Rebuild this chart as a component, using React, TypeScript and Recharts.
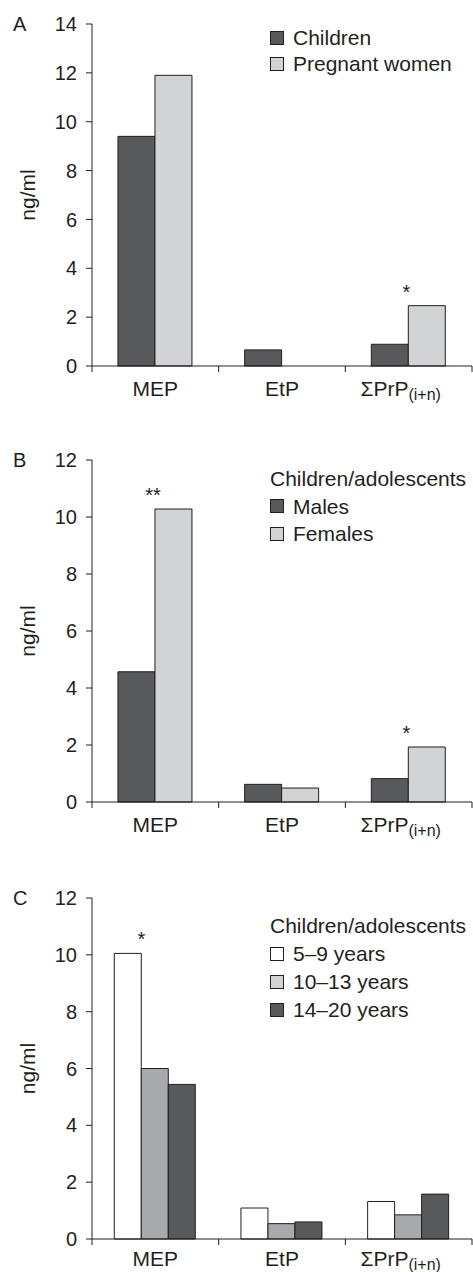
import { BarChart, Bar, XAxis, YAxis, Legend, LabelList } from 'recharts'

const categories = ['MEP', 'EtP', 'ΣPrP']
const categorySubs = ['', '', '(i+n)']
const yTicksA = [0, 2, 4, 6, 8, 10, 12, 14]
const yTicksBC = [0, 2, 4, 6, 8, 10, 12]

// panel A
const childrenA = [9.4, 0.66, 0.89]
const pregnantA = [11.9, null, 2.47]
const sigA = ['', '', '*']

// panel B
const malesB = [4.57, 0.62, 0.82]
const femalesB = [10.28, 0.49, 1.93]
const sigB = ['**', '', '*']

// panel C
const years5to9 = [10.05, 1.09, 1.32]
const years10to13 = [6.0, 0.54, 0.85]
const years14to20 = [5.44, 0.6, 1.58]
const sigC = ['*', '', '']

const FONT = '"Liberation Sans", Arial, Helvetica, sans-serif'
const INK = '#231f20'
const DARK = '#58595b'
const LIGHT = '#d1d3d4'
const MID = '#a7a9ac'

type Series = { key: string; name: string; fill: string; swatch: string; values: (number | null)[] }

// category label plus tick marks at the band edges (the original puts ticks between categories)
const makeCategoryTick = (baseline: number) => (props: any) => {
  const { x, y, payload } = props
  const idx = categories.indexOf(payload.value)
  const sub = categorySubs[idx]
  const half = payload.offset || 0
  return (
    <g>
      <line x1={x - half} x2={x - half} y1={y} y2={y + 6} stroke={INK} />
      {idx === categories.length - 1 && <line x1={x + half} x2={x + half} y1={y} y2={y + 6} stroke={INK} />}
      <text x={sub ? x - 8 : x} y={y + baseline} textAnchor="middle" fontSize={21} fontFamily={FONT} fill={INK}>
        {payload.value}
        {sub ? (
          <tspan dy={4} fontSize={16}>
            {sub}
          </tspan>
        ) : null}
      </text>
    </g>
  )
}

const sigLabel = (side: 'left' | 'right') => (props: any) => {
  const vb = props.viewBox || props
  const { x, y, width } = vb
  if (!props.value) return null
  const cx = side === 'left' ? x - 2 : x + width
  return (
    <text x={cx} y={y - 7} textAnchor="middle" fontSize={20} fontFamily={FONT} fill={INK}>
      {props.value}
    </text>
  )
}

interface PanelProps {
  letter: string
  top: number
  height: number
  marginTop: number
  marginBottom: number
  axisHeight: number
  labelBaseline: number
  yMax: number
  yTicks: number[]
  gap: string
  series: Series[]
  sig: string[]
  sigOn: number
  sigSide: 'left' | 'right'
  legendTitle?: string
  legendTop: number
  rowH: number
}

function Panel(p: PanelProps) {
  const data = categories.map((name, i) => {
    const row: any = { name, sig: p.sig[i] }
    p.series.forEach((s) => (row[s.key] = s.values[i]))
    return row
  })

  const yLabel = (props: any) => {
    const vb = props.viewBox
    const cy = vb.y + vb.height / 2
    return (
      <g fontFamily={FONT} fill={INK}>
        <text x={13} y={vb.y + 6.5} fontSize={20}>
          {p.letter}
        </text>
        <text
          x={27}
          y={cy}
          fontSize={21}
          textAnchor="middle"
          dominantBaseline="central"
          transform={`rotate(-90, 27, ${cy})`}
        >
          ng/ml
        </text>
      </g>
    )
  }

  const legendContent = () => (
    <div style={{ fontFamily: FONT, fontSize: 21, color: INK, lineHeight: `${p.rowH}px`, whiteSpace: 'nowrap' }}>
      {p.legendTitle && <div style={{ height: p.rowH }}>{p.legendTitle}</div>}
      {p.series.map((s) => (
        <div key={s.key} style={{ display: 'flex', alignItems: 'center', height: p.rowH }}>
          <span
            style={{
              display: 'inline-block',
              width: 12,
              height: 12,
              border: `1px solid ${INK}`,
              background: s.swatch,
              marginRight: 9,
            }}
          />
          <span>{s.name}</span>
        </div>
      ))}
    </div>
  )

  return (
    <div style={{ position: 'absolute', left: 0, top: p.top }}>
      <BarChart
        width={473}
        height={p.height}
        data={data}
        margin={{ top: p.marginTop, right: 1, bottom: p.marginBottom, left: 0 }}
        barCategoryGap={p.gap}
        barGap={0}
      >
        <XAxis
          dataKey="name"
          type="category"
          height={p.axisHeight}
          interval={0}
          tickLine={false}
          tickSize={0}
          tickMargin={0}
          axisLine={{ stroke: INK }}
          tick={makeCategoryTick(p.labelBaseline)}
        />
        <YAxis
          domain={[0, p.yMax]}
          ticks={p.yTicks}
          interval={0}
          width={92}
          tickSize={6}
          tickMargin={9}
          axisLine={{ stroke: INK }}
          tickLine={{ stroke: INK }}
          tick={{ fill: INK, fontSize: 20, fontFamily: FONT }}
          label={yLabel}
        />
        <Legend
          layout="vertical"
          align="center"
          verticalAlign="middle"
          content={legendContent}
          wrapperStyle={{ top: p.legendTop, left: 270, width: 'auto' }}
        />
        {p.series.map((s, i) => (
          <Bar
            key={s.key}
            dataKey={s.key}
            name={s.name}
            fill={s.fill}
            stroke={INK}
            strokeWidth={1}
            isAnimationActive={false}
          >
            {i === p.sigOn && <LabelList dataKey="sig" content={sigLabel(p.sigSide)} />}
          </Bar>
        ))}
      </BarChart>
    </div>
  )
}

export default function App() {
  return (
    <div
      style={{
        position: 'absolute',
        left: 0,
        top: 0,
        width: 473,
        height: 1272,
        overflow: 'hidden',
        background: '#fff',
      }}
    >
      <Panel
        letter="A"
        top={0}
        height={410}
        marginTop={24}
        marginBottom={4}
        axisHeight={40}
        labelBaseline={30}
        yMax={14}
        yTicks={yTicksA}
        gap="20.5%"
        series={[
          { key: 'children', name: 'Children', fill: DARK, swatch: DARK, values: childrenA },
          { key: 'pregnant', name: 'Pregnant women', fill: LIGHT, swatch: LIGHT, values: pregnantA },
        ]}
        sig={sigA}
        sigOn={1}
        sigSide="left"
        legendTop={25}
        rowH={26}
      />
      <Panel
        letter="B"
        top={400}
        height={444}
        marginTop={60}
        marginBottom={2}
        axisHeight={40}
        labelBaseline={30}
        yMax={12}
        yTicks={yTicksBC}
        gap="20.5%"
        series={[
          { key: 'males', name: 'Males', fill: DARK, swatch: DARK, values: malesB },
          { key: 'females', name: 'Females', fill: LIGHT, swatch: LIGHT, values: femalesB },
        ]}
        sig={sigB}
        sigOn={1}
        sigSide="left"
        legendTitle="Children/adolescents"
        legendTop={65}
        rowH={27.5}
      />
      <Panel
        letter="C"
        top={820}
        height={455}
        marginTop={78}
        marginBottom={3}
        axisHeight={33}
        labelBaseline={27}
        yMax={12}
        yTicks={yTicksBC}
        gap="17.6%"
        series={[
          { key: 'y5', name: '5–9 years', fill: '#ffffff', swatch: '#ffffff', values: years5to9 },
          { key: 'y10', name: '10–13 years', fill: MID, swatch: LIGHT, values: years10to13 },
          { key: 'y14', name: '14–20 years', fill: DARK, swatch: DARK, values: years14to20 },
        ]}
        sig={sigC}
        sigOn={0}
        sigSide="right"
        legendTitle="Children/adolescents"
        legendTop={92}
        rowH={28}
      />
    </div>
  )
}
